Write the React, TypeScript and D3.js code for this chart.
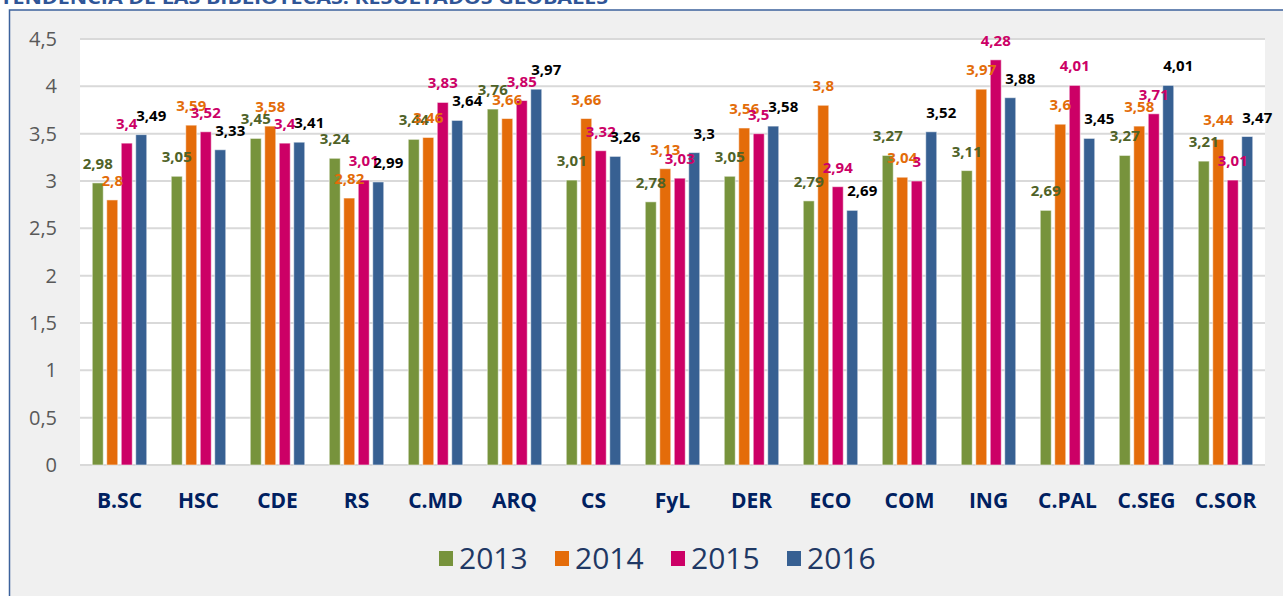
import React from "react";
import * as d3 from "d3";

const categories = ["B.SC", "HSC", "CDE", "RS", "C.MD", "ARQ", "CS", "FyL", "DER", "ECO", "COM", "ING", "C.PAL", "C.SEG", "C.SOR"];
const seriesNames = ["2013", "2014", "2015", "2016"];
const values2013 = [2.98, 3.05, 3.45, 3.24, 3.44, 3.76, 3.01, 2.78, 3.05, 2.79, 3.27, 3.11, 2.69, 3.27, 3.21];
const values2014 = [2.8, 3.59, 3.58, 2.82, 3.46, 3.66, 3.66, 3.13, 3.56, 3.8, 3.04, 3.97, 3.6, 3.58, 3.44];
const values2015 = [3.4, 3.52, 3.4, 3.01, 3.83, 3.85, 3.32, 3.03, 3.5, 2.94, 3, 4.28, 4.01, 3.71, 3.01];
const values2016 = [3.49, 3.33, 3.41, 2.99, 3.64, 3.97, 3.26, 3.3, 3.58, 2.69, 3.52, 3.88, 3.45, 4.01, 3.47];
const yTicks = [0, 0.5, 1, 1.5, 2, 2.5, 3, 3.5, 4, 4.5];
const title = "TENDENCIA DE LAS BIBLIOTECAS: RESULTADOS GLOBALES";

const seriesValues = [values2013, values2014, values2015, values2016];
const barColors = ["#77933c", "#e46c0a", "#cc0066", "#376092"];
const labelColors = ["#4f6228", "#e36c09", "#cc0066", "#000000"];
const labelDx = [0, 0, 0, 10];

const W = 1283;
const H = 596;
const plot = { left: 80, right: 1265, top: 39, bottom: 465 };
const fmt = (v: number) => String(v).replace(".", ",");
const FONT = "'Open Sans', 'DejaVu Sans', sans-serif";

export default function App() {
  const x0 = d3.scaleBand<string>().domain(categories).range([plot.left, plot.right]).padding(0);
  const bw0 = x0.bandwidth();
  const x1 = d3
    .scaleBand<string>()
    .domain(seriesNames)
    .range([bw0 * 0.155, bw0 * 0.845])
    .paddingInner(0.24)
    .paddingOuter(0);
  const y = d3.scaleLinear().domain([0, 4.5]).range([plot.bottom, plot.top]);

  const legendX0 = 439;
  const legendStep = 116;

  return (
    <svg
      width={W}
      height={H}
      style={{ position: "absolute", left: 0, top: 0, background: "#ffffff" }}
      xmlns="http://www.w3.org/2000/svg"
    >
      <rect x={9.5} y={10} width={W} height={H} fill="#f0f0f0" stroke="#3c629c" strokeWidth={1.5} />
      <text
        x={0}
        y={4}
        fill="#2f5597"
        fontFamily={FONT}
        fontWeight={700}
        fontSize={18}
        textLength={608}
        lengthAdjust="spacingAndGlyphs"
      >
        {title}
      </text>
      <rect x={plot.left} y={plot.top} width={plot.right - plot.left} height={plot.bottom - plot.top} fill="#ffffff" />
      {yTicks.map((t) => (
        <g key={t}>
          <line x1={plot.left} x2={plot.right} y1={y(t)} y2={y(t)} stroke="#d9d9d9" strokeWidth={2} />
          <text
            x={57}
            y={y(t) + 7}
            textAnchor="end"
            fill="#595959"
            fontFamily={FONT}
            fontSize={20}
          >
            {fmt(t)}
          </text>
        </g>
      ))}
      {categories.map((c, ci) => (
        <g key={c}>
          {seriesNames.map((s, si) => {
            const v = seriesValues[si][ci];
            const bx = (x0(c) as number) + (x1(s) as number);
            const bw = x1.bandwidth();
            return (
              <rect
                key={s}
                x={bx}
                y={y(v)}
                width={bw}
                height={y(0) - y(v)}
                fill={barColors[si]}
                stroke="#ffffff"
                strokeOpacity={0.55}
                strokeWidth={1}
              />
            );
          })}
        </g>
      ))}
      {categories.map((c, ci) => (
        <g key={c + "-labels"}>
          {seriesNames.map((s, si) => {
            const v = seriesValues[si][ci];
            const cx = (x0(c) as number) + (x1(s) as number) + x1.bandwidth() / 2 + labelDx[si];
            return (
              <text
                key={s}
                x={cx}
                y={y(v) - 14}
                textAnchor="middle"
                fill={labelColors[si]}
                fontFamily={FONT}
                fontWeight={700}
                fontSize={15}
              >
                {fmt(v)}
              </text>
            );
          })}
          <text
            x={(x0(c) as number) + bw0 / 2}
            y={508}
            textAnchor="middle"
            fill="#002060"
            fontFamily={FONT}
            fontWeight={700}
            fontSize={21}
          >
            {c}
          </text>
        </g>
      ))}
      {seriesNames.map((s, si) => (
        <g key={s + "-legend"} transform={`translate(${legendX0 + si * legendStep},0)`}>
          <rect x={0} y={551} width={14} height={15} fill={barColors[si]} />
          <text x={20} y={569} fill="#1f3864" fontFamily={FONT} fontSize={30}>
            {s}
          </text>
        </g>
      ))}
    </svg>
  );
}
